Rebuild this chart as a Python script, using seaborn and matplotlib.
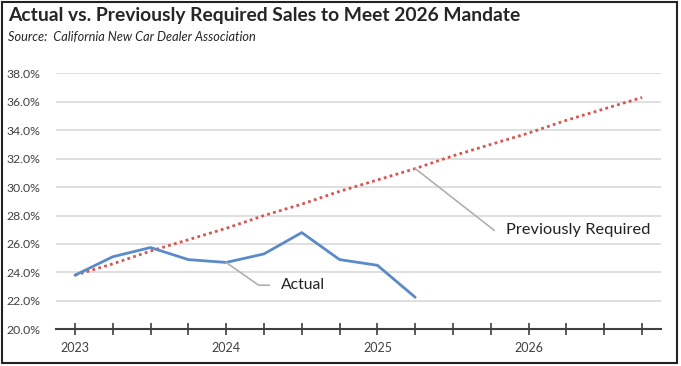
import pandas as pd
import seaborn as sns
import matplotlib.pyplot as plt
from matplotlib.patches import Rectangle

# Data (quarterly, starting 2023 Q1)
quarters = list(range(16))
year_labels = ["2023", "2024", "2025", "2026"]
year_ticks = [0, 4, 8, 12]

actual = [23.8, 25.1, 25.75, 24.9, 24.7, 25.3, 26.8, 24.9, 24.5, 22.25]
previously_required = [23.8, 24.6, 25.5, 26.3, 27.1, 28.0, 28.8, 29.7,
                       30.5, 31.3, 32.2, 33.0, 33.8, 34.7, 35.5, 36.3]

df_actual = pd.DataFrame({"q": quarters[:len(actual)], "pct": actual})
df_req = pd.DataFrame({"q": quarters, "pct": previously_required})

sns.set_style("white")
plt.rcParams['font.family'] = ['Lato', 'DejaVu Sans']

fig = plt.figure(figsize=(6.81, 3.66), dpi=100)
ax = fig.add_axes([56 / 681, 0.1003, (661 - 56) / 681, 0.6994])

sns.lineplot(data=df_req, x="q", y="pct", ax=ax, color="#d9544f",
             linestyle=(0, (1, 1.2)), linewidth=2)
sns.lineplot(data=df_actual, x="q", y="pct", ax=ax, color="#5b8ac8",
             linewidth=2)

ax.set_xlim(-0.5, 15.5)
ax.set_ylim(20, 38)
ax.set_yticks([20 + 2 * i for i in range(10)])
ax.set_yticklabels([f"{20 + 2 * i:.1f}%" for i in range(10)],
                   fontsize=8.8, color="#404040")
ax.set_xticks(quarters)
ax.set_xticklabels([year_labels[year_ticks.index(q)] if q in year_ticks else "" for q in quarters],
                   fontsize=9, color="#404040")
ax.tick_params(axis="x", bottom=True, direction="inout", length=8, width=1.2,
               color="#404040", pad=5)
ax.tick_params(axis="y", left=False, length=0, pad=11)
ax.set_xlabel("")
ax.set_ylabel("")

ax.grid(axis="y", color="#d9d9d9", linewidth=1.2)
ax.set_axisbelow(True)
for s in ["top", "right", "left"]:
    ax.spines[s].set_visible(False)
ax.spines["bottom"].set_color("#404040")
ax.spines["bottom"].set_linewidth(1.5)
ax.spines["bottom"].set_zorder(3)

# callouts
ax.annotate("Actual", xy=(4, actual[4]), xytext=(5.45, 23.1),
            fontsize=11.3, color="#222222", va="center", ha="left",
            arrowprops=dict(arrowstyle="-", color="#b0b0b0", lw=1.2,
                            connectionstyle="angle,angleA=0,angleB=-35,rad=0",
                            shrinkA=6, shrinkB=0))
ax.annotate("Previously Required", xy=(9, previously_required[9]), xytext=(11.4, 26.95),
            fontsize=11.8, color="#222222", va="center", ha="left",
            arrowprops=dict(arrowstyle="-", color="#b0b0b0", lw=1.2,
                            connectionstyle="angle,angleA=0,angleB=-38,rad=0",
                            shrinkA=6, shrinkB=0))

fig.text(8 / 681, 1 - 15 / 366, "Actual vs. Previously Required Sales to Meet 2026 Mandate",
         fontsize=13.9, fontweight="bold", va="center", ha="left")
fig.text(8 / 681, 1 - 37 / 366, "Source:  California New Car Dealer Association",
         fontsize=9.2, style="italic", va="center", ha="left")

fig.add_artist(Rectangle((2 / 681, 3 / 366), 675 / 681, 361 / 366,
                         transform=fig.transFigure, fill=False,
                         edgecolor="#222222", linewidth=1.5))

fig.savefig("out.png", dpi=100)
